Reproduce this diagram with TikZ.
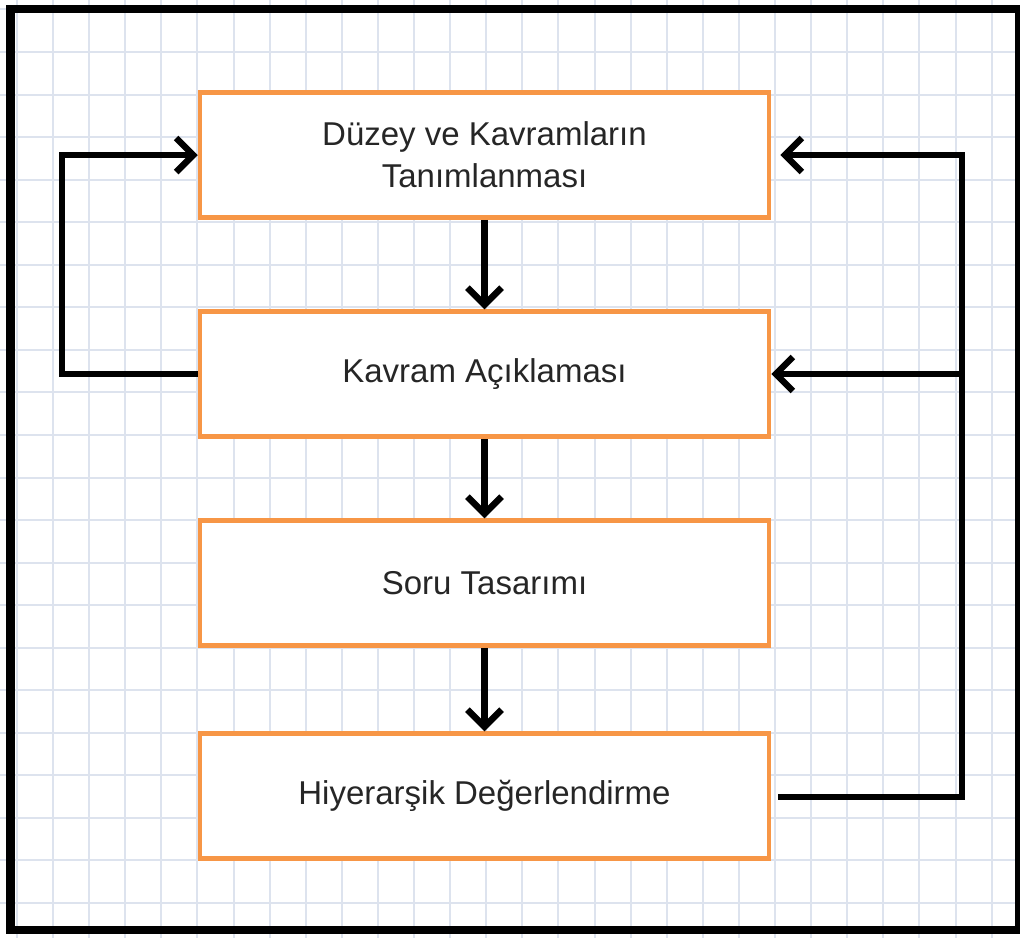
\documentclass[tikz,border=0pt]{standalone}
\usepackage{fontspec}
\setmainfont{Liberation Sans}
\usetikzlibrary{arrows.meta}
\definecolor{gridc}{HTML}{DDE3EE}
\definecolor{boxorange}{HTML}{F79646}
\definecolor{txt}{HTML}{262626}
\tikzset{
  stepbox/.style={draw=boxorange, line width=4.5pt, fill=white, minimum width=569pt, minimum height=125pt, inner sep=0pt, align=center, text=txt, font=\fontsize{33}{42}\selectfont},
  conn/.style={line width=6.5pt, draw=black, -{Straight Barb[length=17pt,width=34pt]}},
}
\begin{document}
\begin{tikzpicture}[x=1pt,y=-1pt]
\useasboundingbox (0,0) rectangle (1020,938);
\fill[white] (0,0) rectangle (1020,938);
% grid
\foreach \k in {-1,...,26} {\draw[gridc, line width=2pt] ({53+\k*36.1},0) -- ({53+\k*36.1},938);}
\foreach \k in {-1,...,20} {\draw[gridc, line width=2pt] (0,{52+\k*42.55}) -- (1020,{52+\k*42.55});}
% frame
\draw[black, line width=8.5pt] (10.5,9) rectangle (1019,930);
% boxes
\node[stepbox] (b1) at (484.5,155) {Düzey ve Kavramların\\Tanımlanması};
\node[stepbox] (b2) at (484.5,374) {Kavram Açıklaması};
\node[stepbox] (b3) at (484.5,583) {Soru Tasarımı};
\node[stepbox] (b4) at (484.5,796) {Hiyerarşik Değerlendirme};
% loop corners
\coordinate (lt) at (62,155);
\coordinate (lb) at (62,374);
\coordinate (rt) at (962,155);
\coordinate (rm) at (962,374);
\coordinate (rb) at (962,797);
% down arrows
\draw[conn] (b1.south) -- (b2.north);
\draw[conn] (b2.south) -- (b3.north);
\draw[conn] (b3.south) -- (b4.north);
% left loop
\draw[conn, line join=miter] (b2.west) -- (lb) -- (lt) -- (b1.west);
% right loop
\draw[conn, line join=miter] ([xshift=7pt]b4.east |- rb) -- (rb) -- (rt) -- ([xshift=9pt]b1.east);
\draw[conn] (rm) -- (b2.east);
\end{tikzpicture}
\end{document}
